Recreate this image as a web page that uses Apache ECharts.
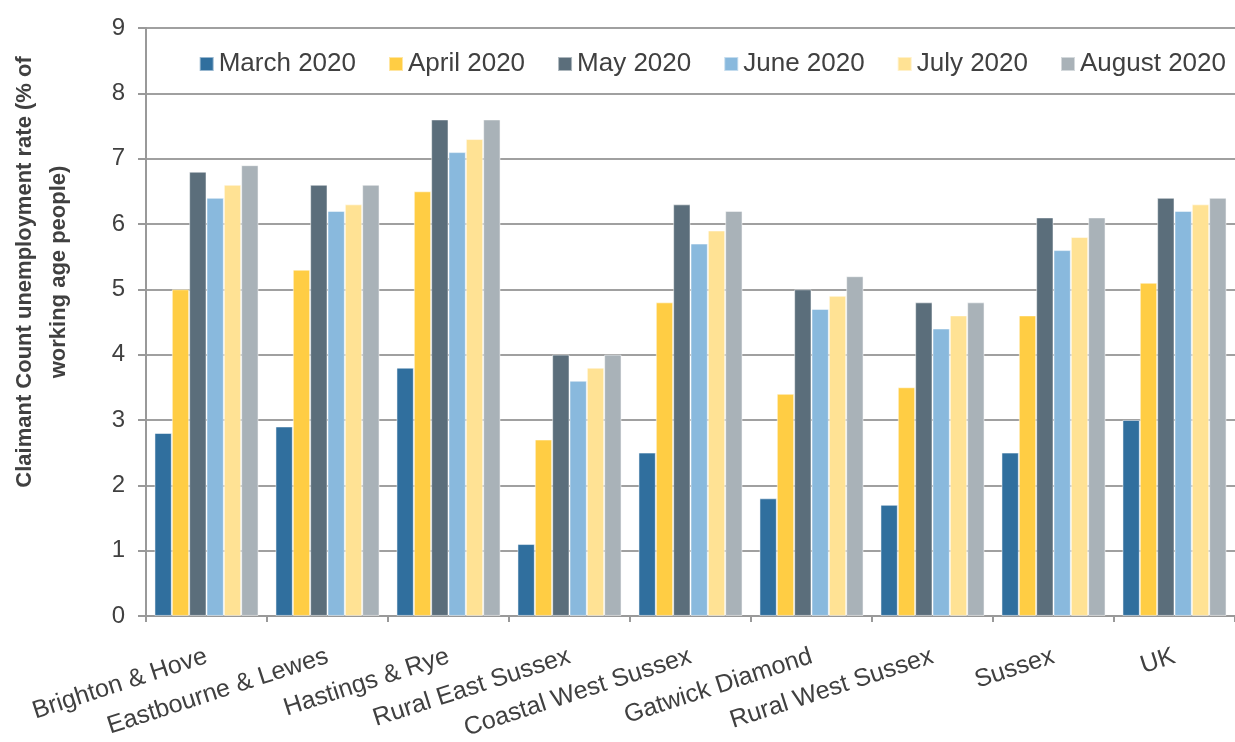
<!DOCTYPE html>
<html>
<head>
<meta charset="utf-8">
<script src="https://cdn.jsdelivr.net/npm/echarts@6/dist/echarts.min.js"></script>
<style>
  html, body { margin: 0; padding: 0; background: #fff; }
  #chart { width: 1235px; height: 742px; }
</style>
</head>
<body>
<div id="chart"></div>
<script>
// Claimant Count unemployment rate by area, March–August 2020
const areas = ['Brighton & Hove', 'Eastbourne & Lewes', 'Hastings & Rye', 'Rural East Sussex',
  'Coastal West Sussex', 'Gatwick Diamond', 'Rural West Sussex', 'Sussex', 'UK'];

const months = ['March 2020', 'April 2020', 'May 2020', 'June 2020', 'July 2020', 'August 2020'];

const march2020  = [2.8, 2.9, 3.8, 1.1, 2.5, 1.8, 1.7, 2.5, 3.0];
const april2020  = [5.0, 5.3, 6.5, 2.7, 4.8, 3.4, 3.5, 4.6, 5.1];
const may2020    = [6.8, 6.6, 7.6, 4.0, 6.3, 5.0, 4.8, 6.1, 6.4];
const june2020   = [6.4, 6.2, 7.1, 3.6, 5.7, 4.7, 4.4, 5.6, 6.2];
const july2020   = [6.6, 6.3, 7.3, 3.8, 5.9, 4.9, 4.6, 5.8, 6.3];
const august2020 = [6.9, 6.6, 7.6, 4.0, 6.2, 5.2, 4.8, 6.1, 6.4];

const seriesValues = [march2020, april2020, may2020, june2020, july2020, august2020];
const colours = ['#306F9E', '#FFCD44', '#5B6E7B', '#89B9DD', '#FFE294', '#A9B2B8'];

const textColour = '#404040';
const font = 'Liberation Sans, Arial, sans-serif';

const chart = echarts.init(document.getElementById('chart'), null, { renderer: 'canvas' });

chart.setOption({
  backgroundColor: '#fff',
  animation: false,
  textStyle: { fontFamily: font },
  grid: { left: 140, right: -8, top: 28, bottom: 125, containLabel: false },
  legend: {
    top: 46,
    right: 4,
    itemWidth: 14,
    itemHeight: 14,
    itemGap: 32,
    icon: 'rect',
    textStyle: { fontSize: 26, color: textColour, fontFamily: font },
    data: months
  },
  xAxis: {
    type: 'category',
    data: areas,
    axisLine: { lineStyle: { color: '#999', width: 2 } },
    axisTick: { show: true, length: 6, lineStyle: { color: '#999', width: 2 } },
    axisLabel: {
      rotate: 18,
      fontSize: 25,
      color: textColour,
      fontFamily: font,
      margin: 40,
      interval: 0
    }
  },
  yAxis: {
    type: 'value',
    min: 0,
    max: 9,
    interval: 1,
    name: 'Claimant Count unemployment rate (% of\nworking age people)',
    nameLocation: 'middle',
    nameRotate: 90,
    nameGap: 70,
    nameTextStyle: {
      fontSize: 22,
      fontWeight: 'bold',
      color: textColour,
      fontFamily: font,
      lineHeight: 34,
      padding: [0, 0, 0, 100]
    },
    axisLine: { show: true, lineStyle: { color: '#999', width: 2 } },
    axisTick: { show: true, length: 8, lineStyle: { color: '#999', width: 2 } },
    axisLabel: { fontSize: 24, color: textColour, fontFamily: font, margin: 21 },
    splitLine: { lineStyle: { color: '#A0A0A0', width: 2 } }
  },
  series: months.map((name, i) => ({
    name,
    type: 'bar',
    data: seriesValues[i],
    barGap: '0%',
    barCategoryGap: '14%',
    itemStyle: { color: colours[i], borderColor: 'rgba(255,255,255,0.5)', borderWidth: 1 }
  }))
});
</script>
</body>
</html>
